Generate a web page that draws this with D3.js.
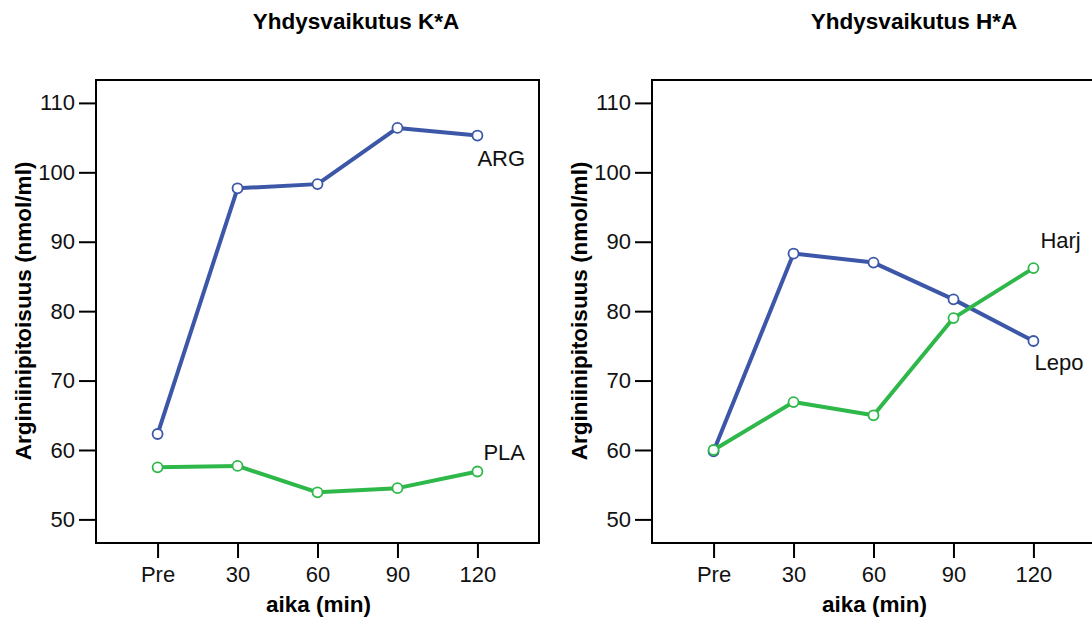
<!DOCTYPE html>
<html>
<head>
<meta charset="utf-8">
<script src="https://cdn.jsdelivr.net/npm/d3@7"></script>
<style>
  html, body { margin: 0; padding: 0; background: #fff; }
  svg { display: block; font-family: "Liberation Sans", Arial, sans-serif; }
</style>
</head>
<body>
<svg id="chart" width="1092" height="619"></svg>
<script>
// Time points (x categories)
const timePoints = ["Pre", "30", "60", "90", "120"];
const yTicks = [50, 60, 70, 80, 90, 100, 110];

// Interaction K*A: arginine concentration (nmol/ml)
const argValues = [62.3, 97.7, 98.3, 106.4, 105.3];
const plaValues = [57.5, 57.7, 53.9, 54.5, 56.9];

// Interaction H*A: arginine concentration (nmol/ml)
const lepoValues = [59.8, 88.3, 87.0, 81.7, 75.7];
const harjValues = [60.0, 66.9, 65.0, 79.0, 86.2];

const panelTitles = ["Yhdysvaikutus K*A", "Yhdysvaikutus H*A"];
const xTitle = "aika (min)";
const yTitle = "Arginiinipitoisuus (nmol/ml)";

const BLUE = "#3c57a8";
const GREEN = "#2eb84a";

const panels = [
  {
    title: panelTitles[0], left: 96, titleX: 356, yTitleX: 23,
    series: [
      { name: "ARG", values: argValues, color: BLUE, dx: 0, dy: 30 },
      { name: "PLA", values: plaValues, color: GREEN, dx: 6, dy: -12 }
    ]
  },
  {
    title: panelTitles[1], left: 652, titleX: 914, yTitleX: 579,
    series: [
      { name: "Lepo", values: lepoValues, color: BLUE, dx: 1, dy: 29 },
      { name: "Harj", values: harjValues, color: GREEN, dx: 7, dy: -20 }
    ]
  }
];

const svg = d3.select("#chart");
const frameW = 443, frameTop = 80, frameBottom = 543;
const TICK_FONT = 22;
const TITLE_FONT = 22.5;

panels.forEach(p => {
  const g = svg.append("g");
  const x = d3.scalePoint().domain(timePoints).range([p.left, p.left + frameW]).padding(0.77);
  const y = d3.scaleLinear().domain([46.6, 113.3]).range([frameBottom, frameTop]);

  // panel title
  g.append("text").attr("x", p.titleX).attr("y", 29)
    .attr("text-anchor", "middle").attr("font-weight", "bold").attr("font-size", TITLE_FONT)
    .text(p.title);

  // y axis
  const ya = g.append("g").attr("transform", `translate(${p.left},0)`)
    .call(d3.axisLeft(y).tickValues(yTicks).tickSize(17).tickPadding(4).tickSizeOuter(0));
  ya.select(".domain").remove();
  ya.selectAll("line").attr("stroke", "#000").attr("stroke-width", 2);
  ya.selectAll("text").attr("font-size", TICK_FONT).attr("font-family", "Liberation Sans, Arial, sans-serif").attr("fill", "#111");

  // x axis
  const xa = g.append("g").attr("transform", `translate(0,${frameBottom})`)
    .call(d3.axisBottom(x).tickSize(15).tickPadding(8).tickSizeOuter(0));
  xa.select(".domain").remove();
  xa.selectAll("line").attr("stroke", "#000").attr("stroke-width", 2);
  xa.selectAll("text").attr("font-size", TICK_FONT).attr("font-family", "Liberation Sans, Arial, sans-serif").attr("fill", "#111");

  // frame
  g.append("rect").attr("x", p.left).attr("y", frameTop).attr("width", frameW).attr("height", frameBottom - frameTop)
    .attr("fill", "none").attr("stroke", "#000").attr("stroke-width", 2);

  // axis titles
  g.append("text").attr("x", x(timePoints[2]) + 1).attr("y", 612)
    .attr("text-anchor", "middle").attr("font-weight", "bold").attr("font-size", TITLE_FONT)
    .text(xTitle);
  g.append("text")
    .attr("transform", `translate(${p.yTitleX + 8},311) rotate(-90)`)
    .attr("text-anchor", "middle").attr("font-weight", "bold").attr("font-size", TITLE_FONT)
    .text(yTitle);

  // series lines, markers and end labels
  const line = d3.line().x((d, i) => x(timePoints[i])).y(d => y(d));
  p.series.forEach(s => {
    g.append("path").datum(s.values).attr("d", line)
      .attr("fill", "none").attr("stroke", s.color).attr("stroke-width", 4)
      .attr("stroke-linejoin", "round");
    g.selectAll(null).data(s.values).enter().append("circle")
      .attr("cx", (d, i) => x(timePoints[i])).attr("cy", d => y(d)).attr("r", 5)
      .attr("fill", "#fff").attr("stroke", s.color).attr("stroke-width", 1.8);
    const last = s.values.length - 1;
    g.append("text")
      .attr("x", x(timePoints[last]) + s.dx)
      .attr("y", y(s.values[last]) + s.dy)
      .attr("font-size", TICK_FONT).attr("fill", "#111")
      .text(s.name);
  });
});
</script>
</body>
</html>
